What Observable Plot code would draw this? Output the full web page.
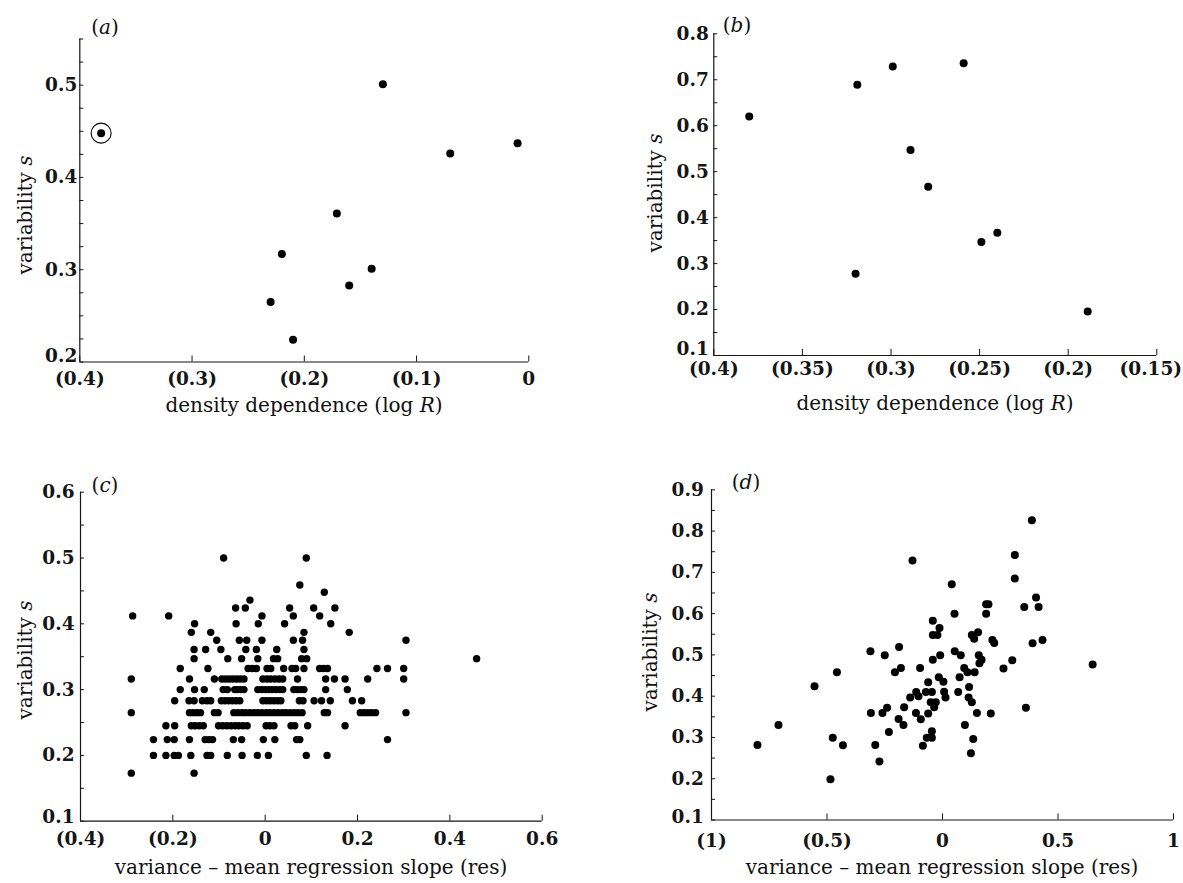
<!DOCTYPE html>
<html><head><meta charset="utf-8">
<script src="https://cdn.jsdelivr.net/npm/d3@7"></script>
<script src="https://cdn.jsdelivr.net/npm/@observablehq/plot@0.6"></script>
<style>
body{margin:0;background:#fff;}
#wrap{position:relative;width:1183px;height:883px;background:#fff;overflow:hidden;font-family:"DejaVu Serif",serif;color:#111;}
.p{position:absolute;}
.t{position:absolute;font-size:20px;white-space:nowrap;line-height:1;transform:translate(-50%,-50%);}
.r{transform:translate(-50%,-50%) rotate(-90deg);}
</style></head><body><div id="wrap"></div>
<script>
// ---------- panel (a) ----------
const aX = [-0.381,-0.130,-0.070,-0.010,-0.171,-0.220,-0.140,-0.160,-0.230,-0.210];
const aY = [0.448,0.501,0.426,0.437,0.361,0.317,0.301,0.283,0.265,0.224];
const aCircled = [true,false,false,false,false,false,false,false,false,false];
const aXTicks = [-0.4,-0.3,-0.2,-0.1,0];
const aYLabels = [0.2,0.3,0.4,0.5];
const aYTicks = [0.2,0.225,0.25,0.275,0.3,0.325,0.35,0.375,0.4,0.425,0.45,0.475,0.5,0.525,0.55];

// ---------- panel (b) ----------
const bX = [-0.380,-0.319,-0.320,-0.299,-0.289,-0.279,-0.259,-0.249,-0.240,-0.189];
const bY = [0.620,0.689,0.278,0.729,0.547,0.467,0.736,0.347,0.367,0.196];
const bXTicks = [-0.4,-0.35,-0.3,-0.25,-0.2,-0.15];
const bYLabels = [0.1,0.2,0.3,0.4,0.5,0.6,0.7,0.8];
const bYTicks = [0.1,0.15,0.2,0.25,0.3,0.35,0.4,0.45,0.5,0.55,0.6,0.65,0.7,0.75,0.8];

// ---------- panel (c) ----------
const cLevels = [0.500,0.459,0.448,0.436,0.424,0.412,0.400,0.387,0.375,0.361,0.347,0.332,0.316,0.300,0.283,0.265,0.245,0.224,0.200,0.173];
const cRows = [
  [-0.090,0.089],
  [0.075],
  [0.128],
  [-0.033],
  [-0.064,-0.043,0.053,0.105,0.151],
  [-0.287,-0.209,-0.007,0.061,0.118],
  [-0.153,-0.063,-0.015,0.042,0.142],
  [-0.160,-0.118,0.084,0.182],
  [-0.105,-0.056,-0.040,-0.007,0.061,0.081,0.305],
  [-0.154,-0.129,-0.096,-0.042,-0.019,0.025,0.084],
  [-0.154,-0.081,-0.051,-0.016,0.018,0.027,0.079,0.090,0.458],
  [-0.184,-0.124,-0.037,-0.028,-0.019,0.004,0.012,0.040,0.058,0.066,0.084,0.118,0.126,0.135,0.242,0.265,0.300],
  [-0.290,-0.164,-0.110,-0.094,-0.086,-0.078,-0.070,-0.062,-0.054,-0.046,-0.005,0.004,0.012,0.021,0.030,0.038,0.070,0.131,0.150,0.173,0.222,0.300],
  [-0.184,-0.153,-0.132,-0.091,-0.082,-0.066,-0.060,-0.053,-0.046,-0.016,-0.008,0.000,0.008,0.015,0.023,0.031,0.038,0.062,0.069,0.077,0.084,0.131,0.178],
  [-0.196,-0.165,-0.154,-0.136,-0.126,-0.118,-0.095,-0.087,-0.079,-0.071,-0.063,-0.055,-0.005,0.003,0.011,0.019,0.027,0.034,0.074,0.082,0.106,0.122,0.141,0.189,0.209],
  [-0.290,-0.164,-0.156,-0.148,-0.140,-0.110,-0.102,-0.068,-0.059,-0.050,-0.042,-0.033,-0.024,-0.016,-0.007,0.002,0.010,0.019,0.028,0.037,0.045,0.054,0.063,0.071,0.080,0.128,0.135,0.206,0.214,0.222,0.230,0.239,0.305],
  [-0.215,-0.196,-0.160,-0.152,-0.143,-0.134,-0.101,-0.092,-0.083,-0.074,-0.065,-0.057,-0.048,-0.039,0.002,0.010,0.019,0.056,0.064,0.092,0.173],
  [-0.242,-0.212,-0.197,-0.164,-0.130,-0.122,-0.114,-0.069,-0.051,-0.004,0.021,0.068,0.075,0.265],
  [-0.242,-0.215,-0.197,-0.188,-0.161,-0.126,-0.118,-0.082,-0.050,-0.017,0.007,0.089,0.134],
  [-0.290,-0.154]
];
const cXTicks = [-0.4,-0.2,0,0.2,0.4,0.6];
const cYLabels = [0.1,0.2,0.3,0.4,0.5,0.6];
const cYTicks = [0.1,0.15,0.2,0.25,0.3,0.35,0.4,0.45,0.5,0.55,0.6];

// ---------- panel (d) ----------
const dX = [
  -0.801,-0.710,-0.554,-0.457,-0.475,-0.431,-0.485,-0.312,-0.310,-0.291,
  -0.273,-0.250,-0.260,-0.240,-0.232,-0.188,-0.206,-0.180,-0.190,-0.166,
  -0.169,-0.130,-0.140,-0.114,-0.097,-0.115,-0.104,-0.094,-0.085,-0.068,
  -0.062,-0.062,-0.072,-0.046,-0.046,-0.042,-0.042,-0.042,-0.046,-0.051,
  -0.036,-0.029,-0.022,-0.013,-0.010,-0.016,0.004,0.007,0.013,0.040,
  0.052,0.053,0.079,0.074,0.068,0.094,0.097,0.115,0.113,0.108,
  0.127,0.123,0.133,0.127,0.137,0.154,0.139,0.149,0.157,0.160,
  0.169,0.189,0.189,0.199,0.216,0.224,0.209,0.264,0.302,0.313,
  0.313,0.354,0.361,0.387,0.390,0.405,0.416,0.433,
  0.650];
const dY = [
  0.282,0.330,0.424,0.458,0.299,0.281,0.199,0.509,0.359,0.282,
  0.242,0.499,0.359,0.372,0.313,0.519,0.458,0.468,0.345,0.373,
  0.330,0.729,0.397,0.410,0.468,0.359,0.400,0.344,0.280,0.299,
  0.434,0.358,0.410,0.315,0.299,0.583,0.548,0.488,0.410,0.385,
  0.373,0.385,0.548,0.565,0.499,0.446,0.435,0.411,0.397,0.671,
  0.600,0.509,0.499,0.446,0.410,0.468,0.330,0.422,0.397,0.458,
  0.385,0.262,0.296,0.548,0.539,0.555,0.458,0.359,0.499,0.480,
  0.488,0.600,0.623,0.623,0.536,0.529,0.358,0.467,0.487,0.742,
  0.685,0.616,0.372,0.826,0.528,0.639,0.616,0.536,
  0.477];
const dXTicks = [-1,-0.5,0,0.5,1];
const dYLabels = [0.1,0.2,0.3,0.4,0.5,0.6,0.7,0.8,0.9];
const dYTicks = [0.1,0.15,0.2,0.25,0.3,0.35,0.4,0.45,0.5,0.55,0.6,0.65,0.7,0.75,0.8,0.85,0.9];

// ---------- build ----------
const fmt = v => v < 0 ? `(${-v})` : `${v}`;
const INK = "#151515";
const wrap = document.getElementById("wrap");

function panel(o) {
  const fw = o.width - o.ml - o.mr, fh = o.height - o.mt - o.mb;
  const tickFont = {fontSize: 18.5, fontWeight: "bold", fontFamily: "DejaVu Serif", fill: INK};
  const xMain = o.xTicks.slice(0, -1), xLast = o.xTicks.slice(-1);
  const svg = Plot.plot({
    width: o.width, height: o.height,
    marginLeft: o.ml, marginRight: o.mr, marginTop: o.mt, marginBottom: o.mb,
    x: {domain: o.xDomain, axis: null},
    y: {domain: o.yDomain, axis: null},
    style: {background: "transparent", overflow: "visible", fontFamily: "DejaVu Serif"},
    marks: [
      Plot.ruleX([o.xDomain[0]], {x: d => d, stroke: INK, strokeWidth: 1.2}),
      Plot.ruleY([o.yDomain[0]], {y: d => d, stroke: INK, strokeWidth: 1.2}),
      Plot.tickX(o.xTicks, {x: d => d, insetTop: fh - 6, stroke: INK, strokeWidth: 1}),
      Plot.tickY(o.yTicks, {y: d => d, insetRight: fw - 4, stroke: INK, strokeWidth: 1}),
      Plot.axisX({ticks: xMain, tickFormat: fmt, tickSize: 0, tickPadding: o.xPad, label: null, ...tickFont}),
      Plot.axisX({ticks: xLast, tickFormat: fmt, tickSize: 0, tickPadding: o.xPad, label: null, dx: o.xLastDx || 0, ...tickFont}),
      Plot.axisY({ticks: o.yLabels.slice(1), tickFormat: fmt, tickSize: 0, tickPadding: o.yPad, label: null, ...tickFont}),
      Plot.axisY({ticks: o.yLabels.slice(0, 1), tickFormat: fmt, tickSize: 0, tickPadding: o.yPad, label: null, dy: o.y0dy, ...tickFont}),
      Plot.dot(o.data, {x: "x", y: "y", r: o.r, fill: "#000"}),
      ...(o.extra || [])
    ]
  });
  svg.classList.add("p");
  svg.style.left = o.left + "px";
  svg.style.top = o.top + "px";
  wrap.appendChild(svg);
}

function text(html, x, y, rot) {
  const d = document.createElement("div");
  d.className = "t" + (rot ? " r" : "");
  d.innerHTML = html;
  d.style.left = x + "px";
  d.style.top = y + "px";
  wrap.appendChild(d);
}

const aData = aX.map((x, i) => ({x, y: aY[i], c: aCircled[i]}));
const bData = bX.map((x, i) => ({x, y: bY[i]}));
const cData = cLevels.flatMap((y, i) => cRows[i].map(x => ({x, y})));
const dData = dX.map((x, i) => ({x, y: dY[i]}));

panel({left: 0, top: 0, width: 560, height: 420, ml: 79.3, mr: 31.7, mt: 38.5, mb: 58.5,
  xDomain: [-0.4, 0], yDomain: [0.2, 0.55], xTicks: aXTicks, yTicks: aYTicks, yLabels: aYLabels,
  xPad: 10, yPad: 2.5, y0dy: -6, data: aData, r: 4,
  extra: [Plot.dot(aData.filter(d => d.c), {x: "x", y: "y", r: 10, stroke: "#000", strokeWidth: 1.1, fill: "none"})]});

panel({left: 590, top: 0, width: 593, height: 420, ml: 123.3, mr: 26.7, mt: 33.3, mb: 65,
  xDomain: [-0.4, -0.15], yDomain: [0.1, 0.8], xTicks: bXTicks, yTicks: bYTicks, yLabels: bYLabels,
  xPad: 6.5, yPad: 5, y0dy: -6.5, xLastDx: -6, data: bData, r: 4});

panel({left: 0, top: 430, width: 590, height: 453, ml: 80, mr: 48.3, mt: 61.7, mb: 62.3,
  xDomain: [-0.4, 0.6], yDomain: [0.1, 0.6], xTicks: cXTicks, yTicks: cYTicks, yLabels: cYLabels,
  xPad: 11, yPad: 6, y0dy: -4.5, data: cData, r: 3.7});

panel({left: 600, top: 430, width: 583, height: 453, ml: 111, mr: 10, mt: 59.3, mb: 63.5,
  xDomain: [-1, 1], yDomain: [0.1, 0.9], xTicks: dXTicks, yTicks: dYTicks, yLabels: dYLabels,
  xPad: 14, yPad: 7.7, y0dy: -2.5, data: dData, r: 4});

// panel letters
text("(<i>a</i>)", 105, 27);
text("(<i>b</i>)", 737, 25);
text("(<i>c</i>)", 105, 485);
text("(<i>d</i>)", 746, 482);
// axis titles
text("density dependence (log <i>R</i>)", 304, 405);
text("density dependence (log <i>R</i>)", 935, 403);
text("variance – mean regression slope (res)", 311, 867);
text("variance – mean regression slope (res)", 942, 867);
text("variability <i>s</i>", 25, 215, true);
text("variability <i>s</i>", 655, 193, true);
text("variability <i>s</i>", 25, 660, true);
text("variability <i>s</i>", 650, 652, true);
</script></body></html>
